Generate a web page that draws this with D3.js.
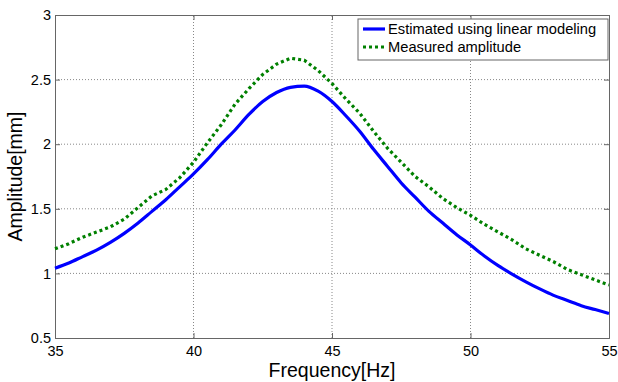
<!DOCTYPE html>
<html>
<head>
  <title>Amplitude vs Frequency</title>
  <script src="https://d3js.org/d3.v7.min.js"></script>
  <style>
    body { margin: 0; background: #fff; }
    text { font-family: Arial, "Liberation Sans", sans-serif; }
  </style>
</head>
<body>
  <svg id="chart"></svg>

  <script>
    // frequency samples (Hz)
    var freq = [35, 35.5, 36, 36.5, 37, 37.5, 38, 38.5, 39, 39.5,
                40, 40.5, 41, 41.5, 42, 42.5, 43, 43.5, 44, 44.5,
                45, 45.5, 46, 46.5, 47, 47.5, 48, 48.5, 49, 49.5,
                50, 50.5, 51, 51.5, 52, 52.5, 53, 53.5, 54, 54.5, 55];

    // estimated using linear modeling
    var estimated = [1.04, 1.08, 1.13, 1.18, 1.24, 1.31, 1.39, 1.48, 1.57, 1.67,
                     1.77, 1.88, 2.00, 2.11, 2.23, 2.33, 2.40, 2.44, 2.45, 2.41,
                     2.33, 2.22, 2.10, 1.96, 1.83, 1.70, 1.59, 1.48, 1.39, 1.30,
                     1.22, 1.135, 1.06, 0.995, 0.935, 0.88, 0.83, 0.79, 0.75, 0.72, 0.69];

    // measured amplitude
    var measured = [1.19, 1.23, 1.28, 1.32, 1.36, 1.42, 1.51, 1.60, 1.65, 1.74,
                    1.86, 2.01, 2.15, 2.31, 2.43, 2.54, 2.62, 2.665, 2.65, 2.57,
                    2.47, 2.35, 2.24, 2.10, 1.97, 1.86, 1.75, 1.67, 1.58, 1.51,
                    1.45, 1.38, 1.32, 1.26, 1.19, 1.14, 1.09, 1.03, 0.99, 0.95, 0.91];

    var xTicks = [35, 40, 45, 50, 55];
    var yTicks = [0.5, 1, 1.5, 2, 2.5, 3];
    var seriesNames = ["Estimated using linear modeling", "Measured amplitude"];

    var W = 618, H = 382;
    var margin = {left: 55, right: 9, top: 15, bottom: 44};

    var svg = d3.select("#chart")
      .attr("width", W)
      .attr("height", H);

    var x = d3.scaleLinear().domain([35, 55]).range([margin.left, W - margin.right]);
    var y = d3.scaleLinear().domain([0.5, 3]).range([H - margin.bottom, margin.top]);

    // grid
    svg.append("g").selectAll("line")
      .data(xTicks.slice(1, -1)).join("line")
      .attr("x1", d => x(d)).attr("x2", d => x(d))
      .attr("y1", y(0.5)).attr("y2", y(3))
      .attr("stroke", "#888").attr("stroke-width", 1)
      .attr("stroke-dasharray", "1,2");
    svg.append("g").selectAll("line")
      .data(yTicks.slice(1, -1)).join("line")
      .attr("y1", d => y(d)).attr("y2", d => y(d))
      .attr("x1", x(35)).attr("x2", x(55))
      .attr("stroke", "#888").attr("stroke-width", 1)
      .attr("stroke-dasharray", "1,2");

    // axes (ticks pointing inward)
    var xAxis = svg.append("g")
      .attr("transform", "translate(0," + y(0.5) + ")")
      .call(d3.axisBottom(x).tickValues(xTicks).tickSize(-5).tickPadding(8).tickFormat(d3.format("d")));
    var yAxis = svg.append("g")
      .attr("transform", "translate(" + x(35) + ",0)")
      .call(d3.axisLeft(y).tickValues(yTicks).tickSize(-5).tickPadding(4).tickFormat(d => String(d)));
    var xAxisTop = svg.append("g")
      .attr("transform", "translate(0," + y(3) + ")")
      .call(d3.axisTop(x).tickValues(xTicks).tickSize(-5).tickFormat(""));
    var yAxisRight = svg.append("g")
      .attr("transform", "translate(" + x(55) + ",0)")
      .call(d3.axisRight(y).tickValues(yTicks).tickSize(-5).tickFormat(""));

    [xAxis, yAxis, xAxisTop, yAxisRight].forEach(function(g) {
      g.select(".domain").attr("stroke", "#666");
      g.selectAll(".tick line").attr("stroke", "#666");
      g.selectAll(".tick text").attr("fill", "#000").style("font-size", "14.5px")
        .style("font-family", "Arial, 'Liberation Sans', sans-serif");
    });

    // lines
    var line = d3.line()
      .x(function(d, i) { return x(freq[i]); })
      .y(function(d) { return y(d); });

    svg.append("path")
      .datum(estimated)
      .attr("fill", "none")
      .attr("stroke", "#0000ff")
      .attr("stroke-width", 3.2)
      .attr("d", line.curve(d3.curveMonotoneX));

    svg.append("path")
      .datum(measured)
      .attr("fill", "none")
      .attr("stroke", "#008000")
      .attr("stroke-width", 3.2)
      .attr("stroke-dasharray", "3,3")
      .attr("d", line.curve(d3.curveLinear));

    // axis labels
    svg.append("text")
      .attr("x", (x(35) + x(55)) / 2)
      .attr("y", 377)
      .attr("text-anchor", "middle")
      .style("font-size", "19.5px")
      .text("Frequency[Hz]");

    svg.append("text")
      .attr("transform", "translate(21.5," + (y(0.5) + y(3)) / 2 + ") rotate(-90)")
      .attr("text-anchor", "middle")
      .style("font-size", "19.5px")
      .text("Amplitude[mm]");

    // legend
    var legend = svg.append("g").attr("transform", "translate(358,19)");
    legend.append("rect")
      .attr("width", 250).attr("height", 41)
      .attr("fill", "#fff").attr("stroke", "#666").attr("stroke-width", 1);
    var styles = [
      {color: "#0000ff", dash: null},
      {color: "#008000", dash: "3,3"}
    ];
    seriesNames.forEach(function(name, i) {
      var row = legend.append("g").attr("transform", "translate(0," + (10 + i * 18) + ")");
      row.append("line")
        .attr("x1", 5).attr("x2", 27)
        .attr("stroke", styles[i].color).attr("stroke-width", 3.2)
        .attr("stroke-dasharray", styles[i].dash);
      row.append("text")
        .attr("x", 30).attr("dy", "0.35em")
        .style("font-size", "14.7px")
        .text(name);
    });
  </script>
</body>
</html>
